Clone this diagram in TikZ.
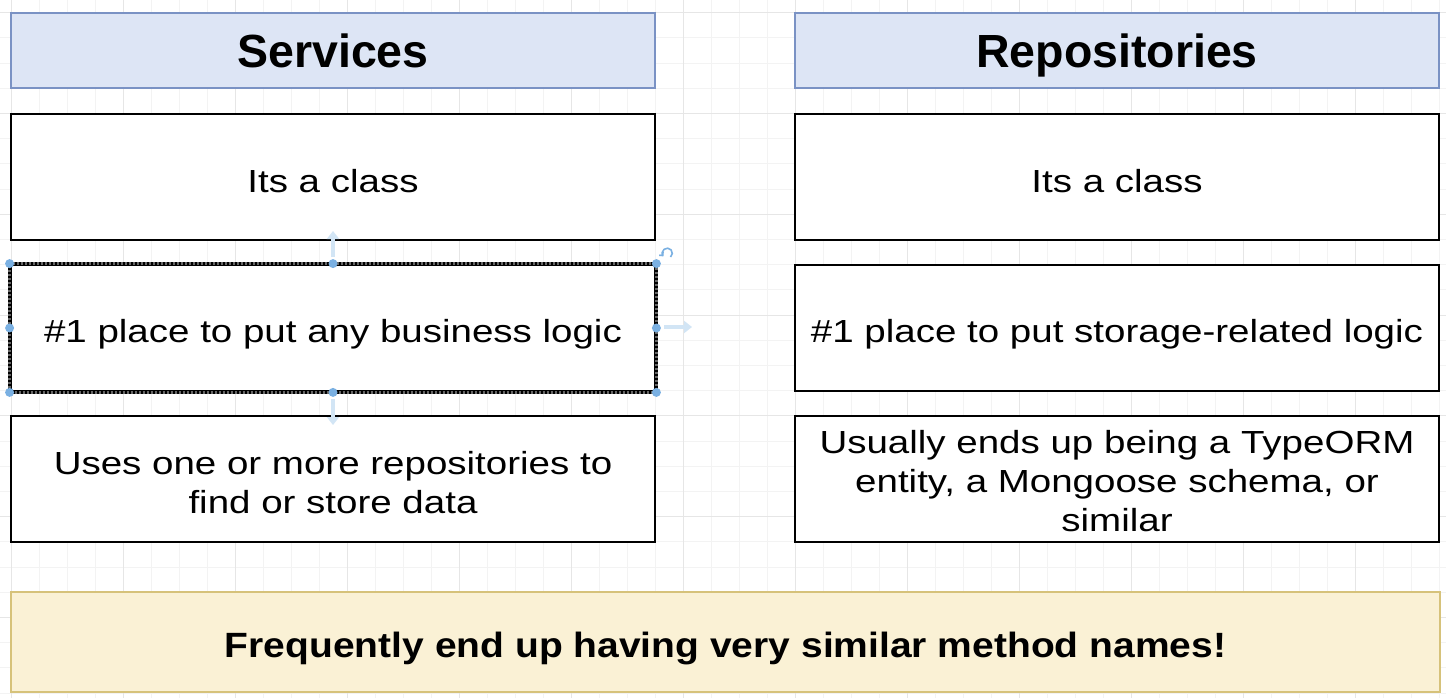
\documentclass[tikz,border=0pt]{standalone}
\usepackage{fontspec}
\usepackage{graphicx}
\setmainfont{Liberation Sans}
\newcommand\vsq[2]{\scalebox{1}[#1]{#2}}
\definecolor{gridminor}{RGB}{243,243,243}
\definecolor{gridmajor}{RGB}{230,230,230}
\definecolor{hdrfill}{RGB}{221,229,245}
\definecolor{hdrdraw}{RGB}{122,146,196}
\definecolor{notefill}{RGB}{250,241,213}
\definecolor{notedraw}{RGB}{214,194,122}
\definecolor{handle}{RGB}{122,176,226}
\definecolor{ghost}{RGB}{210,229,245}
\tikzset{
  hdrbox/.style={rectangle, draw=hdrdraw, fill=hdrfill, line width=2.4pt, minimum width=644pt, minimum height=75pt, inner sep=0pt},
  plainbox/.style={rectangle, draw=black, fill=white, line width=2.8pt, minimum width=644pt, minimum height=126pt, inner sep=0pt},
  notebox/.style={rectangle, draw=notedraw, fill=notefill, line width=2.6pt, minimum width=1429pt, minimum height=100pt, inner sep=0pt},
  hdrtext/.style={anchor=base, inner sep=0pt, font=\fontsize{46.5}{56}\selectfont\bfseries},
  bodytext/.style={anchor=base, inner sep=0pt, font=\fontsize{38.5}{47.5}\selectfont},
  notetext/.style={anchor=base, inner sep=0pt, font=\fontsize{39}{47}\selectfont\bfseries},
  handledot/.style={circle, fill=handle, inner sep=0pt, minimum size=9pt},
  ghostarrow/.style={draw=ghost, line width=4pt, -{Triangle[length=8pt,width=12pt]}}
}
\usetikzlibrary{arrows.meta}
\begin{document}
\begin{tikzpicture}[x=1pt,y=-1pt]
\useasboundingbox (0,0) rectangle (1446,698);
\fill[white] (0,0) rectangle (1446,698);
% grid
\foreach \i in {0,...,52} {
  \pgfmathsetmacro\gx{11+28*\i}
  \draw[gridminor, line width=0.8pt] (\gx,0) -- (\gx,698);
}
\foreach \i in {0,...,28} {
  \pgfmathsetmacro\gy{12.6+25.2*\i}
  \draw[gridminor, line width=0.8pt] (0,\gy) -- (1446,\gy);
}
\foreach \i in {0,...,13} {
  \pgfmathsetmacro\gx{11+112*\i}
  \draw[gridmajor, line width=1pt] (\gx,0) -- (\gx,698);
}
\foreach \i in {0,...,7} {
  \pgfmathsetmacro\gy{12.6+100.8*\i}
  \draw[gridmajor, line width=1pt] (0,\gy) -- (1446,\gy);
}

% headers
\node[hdrbox] (hs) at (333,50.5) {};
\node[hdrbox] (hr) at (1117,50.5) {};
\node[hdrtext] (ths) at (333,68) {Services};
\node[hdrtext] (thr) at (1117,68) {Repositories};

% left column
\node[plainbox] (s1) at (333,177) {};
\node[plainbox] (s2) at (333,328) {};
\node[plainbox] (s3) at (333,479) {};
% right column
\node[plainbox] (r1) at (1117,177) {};
\node[plainbox] (r2) at (1117,328) {};
\node[plainbox] (r3) at (1117,479) {};

% selection look of s2
\draw[white, line width=2.8pt] (s2.north west) rectangle (s2.south east);
\draw[black!60, line width=2.6pt] (s2.north west) rectangle (s2.south east);
\draw[black, line width=2.6pt, dash pattern=on 2pt off 2pt] (s2.north west) rectangle (s2.south east);
\coordinate (upA) at (333,257);
\coordinate (upB) at (333,231);
\coordinate (dnA) at (333,399);
\coordinate (dnB) at (333,425);
\coordinate (rtA) at (664,327);
\coordinate (rtB) at (692,327);
\draw[ghostarrow] (upA) -- (upB);
\draw[ghostarrow] (dnA) -- (dnB);
\draw[ghostarrow] (rtA) -- (rtB);
\foreach \a in {north west,north,north east,west,east,south west,south,south east}
  \node[handledot] at (s2.\a) {};
\draw[handle, line width=1.6pt, -{Straight Barb[length=2.5pt]}] (670.5,257) arc[start angle=-50, end angle=220, radius=5pt];

% texts
\node[bodytext] (ts1) at (333,192) {\vsq{0.83}{Its a class}};
\node[bodytext] (ts2) at (333,342) {\vsq{0.83}{\#1 place to put any business logic}};
\node[bodytext] (ts3) at (333,474) {\vsq{0.83}{\begin{tabular}[t]{@{}c@{}}Uses one or more repositories to\\find or store data\end{tabular}}};
\node[bodytext] (tr1) at (1117,192) {\vsq{0.83}{Its a class}};
\node[bodytext] (tr2) at (1117,342) {\vsq{0.83}{\#1 place to put storage-related logic}};
\node[bodytext] (tr3) at (1117,453) {\vsq{0.83}{\begin{tabular}[t]{@{}c@{}}Usually ends up being a TypeORM\\entity, a Mongoose schema, or\\similar\end{tabular}}};

% note
\node[notebox] (note) at (725.5,642) {};
\node[notetext] (tnote) at (725.5,657) {\vsq{0.9}{Frequently end up having very similar method names!}};
\end{tikzpicture}
\end{document}
